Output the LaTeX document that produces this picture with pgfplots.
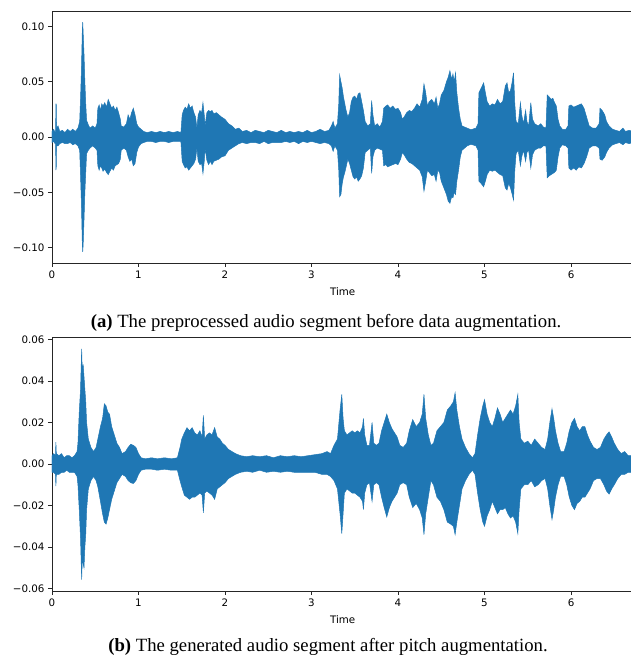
\documentclass[border=0pt]{standalone}
\usepackage{pgfplots}
\pgfplotsset{compat=1.18}
\usepackage{pgfplotstable}
\usepackage{fontspec}
\setmainfont{Liberation Serif}
\newfontfamily\djv{DejaVu Sans}
\definecolor{wave}{HTML}{1F77B4}

% envelope of the waveform (time in s, upper, lower)
\pgfplotstableread{
t hi lo
0.00 0.005 -0.005
0.02 0.007 -0.004
0.035 0.004 -0.006
0.042 0.006 -0.006
0.045 0.030 -0.030
0.049 0.030 -0.028
0.053 0.008 -0.008
0.07 0.010 -0.008
0.09 0.005 -0.006
0.12 0.006 -0.005
0.15 0.004 -0.006
0.18 0.007 -0.006
0.21 0.005 -0.005
0.24 0.007 -0.007
0.27 0.005 -0.006
0.30 0.008 -0.008
0.32 0.014 -0.012
0.33 0.035 -0.035
0.34 0.060 -0.060
0.35 0.095 -0.095
0.355 0.104 -0.104
0.36 0.095 -0.098
0.37 0.075 -0.075
0.38 0.050 -0.050
0.39 0.030 -0.032
0.40 0.015 -0.015
0.42 0.011 -0.012
0.44 0.008 -0.010
0.47 0.010 -0.008
0.50 0.008 -0.010
0.52 0.012 -0.012
0.53 0.026 -0.026
0.545 0.029 -0.030
0.56 0.024 -0.026
0.575 0.030 -0.028
0.59 0.028 -0.031
0.61 0.031 -0.029
0.63 0.027 -0.032
0.65 0.034 -0.034
0.67 0.030 -0.031
0.69 0.026 -0.028
0.71 0.028 -0.030
0.73 0.024 -0.026
0.75 0.027 -0.025
0.77 0.022 -0.024
0.79 0.016 -0.020
0.80 0.010 -0.012
0.83 0.009 -0.010
0.86 0.012 -0.012
0.88 0.020 -0.018
0.90 0.016 -0.022
0.92 0.022 -0.020
0.94 0.026 -0.026
0.96 0.020 -0.024
0.98 0.012 -0.014
1.00 0.009 -0.009
1.03 0.007 -0.006
1.06 0.005 -0.005
1.10 0.004 -0.004
1.15 0.005 -0.004
1.20 0.004 -0.005
1.25 0.005 -0.004
1.30 0.004 -0.004
1.35 0.005 -0.005
1.40 0.004 -0.004
1.45 0.005 -0.004
1.49 0.004 -0.004
1.505 0.020 -0.022
1.52 0.024 -0.025
1.54 0.027 -0.028
1.56 0.025 -0.027
1.58 0.030 -0.030
1.60 0.026 -0.028
1.62 0.028 -0.026
1.64 0.022 -0.024
1.66 0.018 -0.020
1.675 0.008 -0.010
1.69 0.020 -0.022
1.71 0.024 -0.025
1.73 0.022 -0.024
1.745 0.031 -0.033
1.76 0.020 -0.022
1.77 0.010 -0.010
1.79 0.022 -0.021
1.81 0.024 -0.025
1.83 0.023 -0.022
1.85 0.024 -0.025
1.87 0.021 -0.022
1.90 0.022 -0.021
1.93 0.020 -0.020
1.96 0.018 -0.018
2.00 0.016 -0.017
2.04 0.012 -0.012
2.08 0.010 -0.010
2.12 0.007 -0.008
2.16 0.008 -0.006
2.20 0.005 -0.005
2.25 0.006 -0.006
2.30 0.004 -0.005
2.35 0.006 -0.005
2.40 0.005 -0.006
2.45 0.004 -0.004
2.50 0.006 -0.006
2.55 0.005 -0.005
2.60 0.004 -0.005
2.65 0.006 -0.005
2.70 0.004 -0.004
2.75 0.005 -0.005
2.80 0.004 -0.004
2.85 0.005 -0.006
2.90 0.004 -0.004
2.95 0.006 -0.005
3.00 0.004 -0.004
3.05 0.005 -0.005
3.10 0.007 -0.006
3.15 0.005 -0.005
3.20 0.006 -0.006
3.23 0.010 -0.008
3.25 0.014 -0.013
3.27 0.008 -0.008
3.30 0.012 -0.012
3.315 0.030 -0.030
3.325 0.056 -0.054
3.34 0.050 -0.052
3.355 0.044 -0.042
3.37 0.036 -0.036
3.385 0.030 -0.032
3.40 0.024 -0.027
3.42 0.018 -0.020
3.44 0.022 -0.024
3.46 0.032 -0.030
3.48 0.036 -0.036
3.50 0.037 -0.038
3.52 0.034 -0.036
3.54 0.039 -0.040
3.56 0.040 -0.038
3.58 0.032 -0.035
3.60 0.024 -0.028
3.62 0.014 -0.014
3.65 0.010 -0.012
3.68 0.012 -0.010
3.695 0.033 -0.033
3.71 0.020 -0.018
3.73 0.010 -0.012
3.76 0.012 -0.010
3.79 0.009 -0.011
3.82 0.014 -0.012
3.835 0.026 -0.026
3.86 0.028 -0.025
3.88 0.029 -0.027
3.91 0.026 -0.026
3.94 0.028 -0.025
3.97 0.025 -0.024
4.00 0.026 -0.025
4.03 0.022 -0.020
4.05 0.016 -0.014
4.07 0.018 -0.016
4.10 0.022 -0.020
4.13 0.024 -0.023
4.16 0.023 -0.024
4.19 0.026 -0.026
4.22 0.030 -0.028
4.25 0.027 -0.030
4.28 0.034 -0.036
4.30 0.048 -0.049
4.32 0.040 -0.040
4.34 0.028 -0.030
4.36 0.032 -0.032
4.39 0.034 -0.035
4.42 0.030 -0.034
4.44 0.036 -0.040
4.46 0.026 -0.030
4.48 0.030 -0.032
4.50 0.038 -0.040
4.53 0.042 -0.046
4.56 0.050 -0.052
4.58 0.054 -0.058
4.60 0.060 -0.060
4.62 0.052 -0.054
4.635 0.057 -0.055
4.65 0.050 -0.050
4.665 0.058 -0.052
4.68 0.040 -0.040
4.70 0.026 -0.030
4.72 0.016 -0.018
4.74 0.010 -0.012
4.77 0.009 -0.010
4.80 0.008 -0.008
4.83 0.007 -0.007
4.86 0.007 -0.007
4.90 0.008 -0.008
4.925 0.012 -0.012
4.935 0.040 -0.040
4.96 0.044 -0.042
4.99 0.049 -0.045
5.01 0.040 -0.040
5.03 0.032 -0.034
5.06 0.028 -0.030
5.09 0.030 -0.031
5.12 0.029 -0.030
5.15 0.034 -0.032
5.18 0.030 -0.034
5.21 0.032 -0.035
5.24 0.046 -0.046
5.26 0.049 -0.048
5.28 0.040 -0.042
5.30 0.042 -0.046
5.32 0.050 -0.052
5.335 0.058 -0.057
5.35 0.030 -0.030
5.365 0.014 -0.015
5.39 0.012 -0.012
5.415 0.031 -0.026
5.43 0.020 -0.018
5.45 0.012 -0.012
5.475 0.024 -0.022
5.49 0.014 -0.014
5.51 0.010 -0.012
5.535 0.031 -0.028
5.555 0.016 -0.016
5.58 0.012 -0.012
5.62 0.010 -0.010
5.65 0.012 -0.010
5.68 0.009 -0.008
5.71 0.008 -0.008
5.725 0.038 -0.037
5.75 0.036 -0.035
5.77 0.034 -0.034
5.79 0.035 -0.033
5.81 0.031 -0.032
5.83 0.028 -0.030
5.85 0.016 -0.018
5.87 0.010 -0.010
5.90 0.007 -0.007
5.94 0.007 -0.008
5.965 0.010 -0.010
5.975 0.028 -0.028
6.00 0.029 -0.030
6.03 0.027 -0.028
6.06 0.028 -0.030
6.09 0.029 -0.027
6.12 0.030 -0.028
6.15 0.026 -0.024
6.18 0.018 -0.018
6.21 0.010 -0.010
6.25 0.008 -0.008
6.29 0.008 -0.008
6.325 0.012 -0.010
6.335 0.026 -0.020
6.36 0.024 -0.021
6.39 0.020 -0.018
6.41 0.014 -0.014
6.44 0.010 -0.010
6.48 0.007 -0.007
6.52 0.006 -0.006
6.56 0.005 -0.005
6.60 0.008 -0.007
6.63 0.005 -0.005
6.67 0.006 -0.006
6.72 0.005 -0.005
}\origdata

\pgfplotstableread{
t hi lo
0.00 0.004 -0.004
0.02 0.005 -0.004
0.04 0.004 -0.005
0.045 0.0105 -0.0107
0.05 0.005 -0.005
0.08 0.004 -0.005
0.11 0.005 -0.004
0.14 0.003 -0.004
0.17 0.004 -0.003
0.20 0.004 -0.004
0.23 0.003 -0.004
0.26 0.004 -0.004
0.29 0.006 -0.006
0.30 0.010 -0.010
0.315 0.025 -0.022
0.33 0.036 -0.036
0.343 0.0555 -0.0557
0.35 0.044 -0.046
0.36 0.048 -0.048
0.37 0.042 -0.050
0.38 0.036 -0.040
0.39 0.030 -0.034
0.40 0.020 -0.022
0.42 0.012 -0.012
0.45 0.008 -0.008
0.48 0.006 -0.006
0.51 0.008 -0.008
0.53 0.012 -0.011
0.56 0.018 -0.018
0.585 0.022 -0.024
0.605 0.029 -0.028
0.625 0.028 -0.029
0.645 0.025 -0.026
0.665 0.024 -0.022
0.69 0.018 -0.017
0.72 0.014 -0.013
0.75 0.010 -0.009
0.78 0.008 -0.007
0.81 0.005 -0.005
0.85 0.006 -0.006
0.88 0.008 -0.008
0.91 0.0095 -0.009
0.94 0.009 -0.0094
0.97 0.008 -0.008
1.00 0.005 -0.005
1.03 0.003 -0.003
1.08 0.0025 -0.0025
1.15 0.003 -0.0025
1.22 0.0025 -0.003
1.30 0.003 -0.0025
1.38 0.0025 -0.003
1.45 0.003 -0.003
1.48 0.008 -0.008
1.50 0.012 -0.011
1.53 0.015 -0.015
1.56 0.0175 -0.016
1.59 0.016 -0.017
1.62 0.0175 -0.016
1.65 0.015 -0.016
1.68 0.014 -0.015
1.71 0.016 -0.014
1.735 0.013 -0.015
1.75 0.0234 -0.0235
1.765 0.012 -0.014
1.79 0.014 -0.013
1.82 0.015 -0.014
1.85 0.014 -0.015
1.88 0.0175 -0.017
1.91 0.013 -0.012
1.94 0.012 -0.011
1.97 0.010 -0.010
2.00 0.009 -0.009
2.04 0.007 -0.007
2.08 0.006 -0.006
2.12 0.005 -0.005
2.18 0.004 -0.004
2.25 0.0035 -0.0035
2.32 0.004 -0.004
2.40 0.0035 -0.003
2.48 0.004 -0.004
2.56 0.003 -0.0035
2.64 0.004 -0.004
2.72 0.0035 -0.0035
2.80 0.004 -0.004
2.88 0.0035 -0.004
2.96 0.004 -0.004
3.04 0.0045 -0.004
3.12 0.005 -0.005
3.18 0.006 -0.005
3.22 0.005 -0.006
3.26 0.009 -0.008
3.30 0.012 -0.012
3.33 0.026 -0.024
3.35 0.0335 -0.0335
3.365 0.022 -0.024
3.38 0.016 -0.014
3.41 0.014 -0.012
3.44 0.015 -0.013
3.47 0.016 -0.014
3.50 0.015 -0.014
3.53 0.016 -0.015
3.56 0.015 -0.016
3.59 0.018 -0.018
3.60 0.022 -0.022
3.615 0.014 -0.014
3.64 0.009 -0.010
3.67 0.009 -0.009
3.70 0.020 -0.018
3.72 0.010 -0.010
3.75 0.009 -0.009
3.78 0.010 -0.010
3.81 0.016 -0.016
3.84 0.020 -0.021
3.87 0.024 -0.0255
3.90 0.020 -0.021
3.93 0.017 -0.018
3.96 0.015 -0.016
3.99 0.013 -0.014
4.02 0.009 -0.010
4.06 0.008 -0.009
4.10 0.010 -0.010
4.13 0.016 -0.016
4.17 0.0214 -0.021
4.21 0.018 -0.019
4.25 0.020 -0.022
4.28 0.024 -0.026
4.30 0.0335 -0.034
4.32 0.022 -0.024
4.35 0.014 -0.016
4.38 0.009 -0.008
4.41 0.010 -0.010
4.45 0.016 -0.016
4.49 0.018 -0.018
4.53 0.020 -0.022
4.57 0.026 -0.028
4.61 0.028 -0.029
4.64 0.030 -0.030
4.66 0.0343 -0.034
4.68 0.026 -0.028
4.71 0.018 -0.020
4.74 0.012 -0.012
4.78 0.008 -0.008
4.82 0.005 -0.005
4.86 0.003 -0.003
4.89 0.005 -0.005
4.92 0.014 -0.014
4.95 0.022 -0.022
4.98 0.028 -0.028
5.00 0.031 -0.030
5.03 0.024 -0.025
5.06 0.020 -0.022
5.09 0.018 -0.018
5.12 0.022 -0.021
5.15 0.027 -0.024
5.18 0.024 -0.022
5.21 0.020 -0.022
5.24 0.022 -0.021
5.27 0.024 -0.024
5.30 0.026 -0.026
5.33 0.024 -0.025
5.36 0.028 -0.028
5.385 0.0335 -0.0335
5.40 0.020 -0.022
5.42 0.012 -0.012
5.46 0.010 -0.010
5.50 0.011 -0.010
5.54 0.009 -0.008
5.58 0.012 -0.011
5.62 0.010 -0.010
5.66 0.008 -0.008
5.70 0.007 -0.007
5.73 0.012 -0.012
5.755 0.020 -0.020
5.78 0.0266 -0.0267
5.80 0.022 -0.022
5.82 0.016 -0.016
5.85 0.010 -0.010
5.88 0.006 -0.006
5.92 0.006 -0.006
5.95 0.010 -0.010
5.98 0.016 -0.016
6.01 0.020 -0.020
6.04 0.022 -0.022
6.07 0.018 -0.019
6.10 0.016 -0.018
6.13 0.018 -0.016
6.16 0.018 -0.016
6.19 0.014 -0.014
6.22 0.011 -0.012
6.26 0.008 -0.008
6.30 0.007 -0.007
6.34 0.008 -0.007
6.38 0.012 -0.010
6.41 0.014 -0.013
6.44 0.0155 -0.0145
6.47 0.013 -0.012
6.50 0.010 -0.010
6.54 0.007 -0.007
6.58 0.005 -0.005
6.62 0.006 -0.005
6.66 0.004 -0.004
6.72 0.004 -0.004
}\pitchdata

\pgfplotsset{
  wavestyle/.style={
    scale only axis,
    width=581.3pt,
    xmin=0, xmax=6.72,
    xtick={0,1,2,3,4,5,6},
    xticklabels={0,1,2,3,4,5,6},
    scaled y ticks=false,
    xtick pos=lower, ytick pos=left,
    tick align=outside,
    major tick length=4pt,
    axis line style={black!85, line width=0.8pt},
    every tick/.style={black!85, line width=0.8pt},
    tick label style={font=\djv\fontsize{10.3}{12}\selectfont},
    xlabel={Time},
    xlabel style={font=\djv\fontsize{10.3}{12}\selectfont, yshift=-2pt},
  },
}

\begin{document}
\begin{tikzpicture}
\path[use as bounding box] (0,0) rectangle (631pt,658pt);

\begin{axis}[wavestyle,
  at={(52pt,395pt)}, anchor=south west,
  height=252pt,
  ymin=-0.114, ymax=0.114,
  ytick={-0.10,-0.05,0,0.05,0.10},
  yticklabels={−0.10,−0.05,0.00,0.05,0.10},
]
\addplot[fill=wave, draw=wave, line width=0.5pt] table[x=t, y=hi] {\origdata} \closedcycle;
\addplot[fill=wave, draw=wave, line width=0.5pt] table[x=t, y=lo] {\origdata} \closedcycle;
\end{axis}
\node[font=\fontsize{18.7}{21}\selectfont] at (326pt,335.5pt) {\textbf{(a)} The preprocessed audio segment before data augmentation.};

\begin{axis}[wavestyle,
  at={(52pt,67pt)}, anchor=south west,
  height=254pt,
  ymin=-0.0612, ymax=0.0612,
  ytick={-0.06,-0.04,-0.02,0,0.02,0.04,0.06},
  yticklabels={−0.06,−0.04,−0.02,0.00,0.02,0.04,0.06},
]
\addplot[fill=wave, draw=wave, line width=0.5pt] table[x=t, y=hi] {\pitchdata} \closedcycle;
\addplot[fill=wave, draw=wave, line width=0.5pt] table[x=t, y=lo] {\pitchdata} \closedcycle;
\end{axis}
\node[font=\fontsize{18.7}{21}\selectfont] at (328pt,11pt) {\textbf{(b)} The generated audio segment after pitch augmentation.};
\end{tikzpicture}
\end{document}
